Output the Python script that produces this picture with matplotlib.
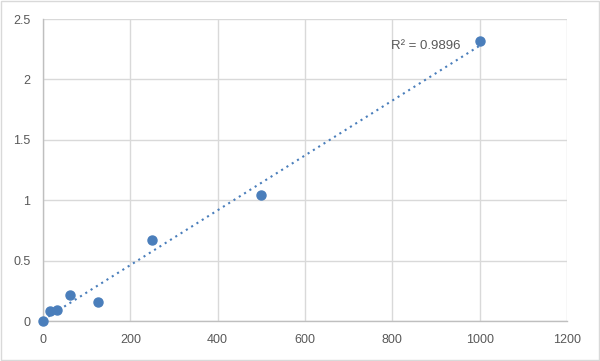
import matplotlib
matplotlib.use("Agg")
import matplotlib.pyplot as plt
import numpy as np
from matplotlib.patches import Rectangle

conc = [0, 15.6, 31.25, 62.5, 125, 250, 500, 1000]
od = [0.0, 0.083, 0.09, 0.215, 0.157, 0.67, 1.043, 2.318]
r2_label = "R² = 0.9896"

x_ticks = [0, 200, 400, 600, 800, 1000, 1200]
y_ticks = [0, 0.5, 1, 1.5, 2, 2.5]
y_tick_labels = ["0", "0.5", "1", "1.5", "2", "2.5"]

blue = "#4a7ebb"
grid_color = "#d9d9d9"
text_color = "#595959"

plt.rcParams["font.family"] = ["Liberation Sans", "DejaVu Sans"]

fig = plt.figure(figsize=(6.0, 3.61), dpi=100)
ax = fig.add_axes([0.0717, 0.1108, 0.8733, 0.8365])

slope, intercept = np.polyfit(conc, od, 1)
fit_x = np.array([min(conc), max(conc)])
ax.plot(fit_x, slope * fit_x + intercept, linestyle=(0, (1, 2)), color=blue,
        linewidth=1.5, zorder=2)
ax.plot(conc, od, "o", color=blue, markersize=6.5, zorder=3, clip_on=False)

ax.text(797, 2.28, r2_label, fontsize=9.5, color=text_color, va="center", ha="left")

ax.set_xlim(0, 1200)
ax.set_ylim(0, 2.5)
ax.set_xticks(x_ticks)
ax.set_yticks(y_ticks)
ax.set_yticklabels(y_tick_labels)
ax.grid(True, color=grid_color, linewidth=1)
ax.set_axisbelow(True)
for side in ["top", "right"]:
    ax.spines[side].set_visible(False)
for side in ["left", "bottom"]:
    ax.spines[side].set_color("#bfbfbf")
    ax.spines[side].set_linewidth(1)
ax.tick_params(length=0, labelsize=9, colors=text_color, pad=9)

fig.patches.append(Rectangle((0.002, 0.003), 0.996, 0.994, transform=fig.transFigure,
                             fill=False, edgecolor=grid_color, linewidth=1))

fig.savefig("out.png", dpi=100)
